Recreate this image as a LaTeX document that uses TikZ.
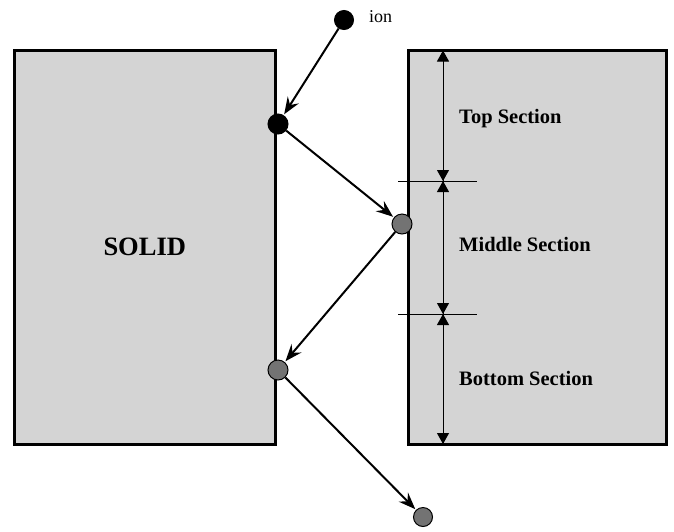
\documentclass[tikz,border=0pt]{standalone}
\usepackage{fontspec}
\setmainfont{Liberation Serif}
\usetikzlibrary{arrows.meta}
\begin{document}
\begin{tikzpicture}[x=1pt,y=-1pt,
  box/.style={draw=black,line width=3pt,fill=black!17},
  blackdot/.style={circle,draw=black,line width=1pt,fill=black,minimum size=20pt,inner sep=0pt},
  graydot/.style={circle,draw=black,line width=1pt,fill=black!55,minimum size=20pt,inner sep=0pt},
  mover/.style={line width=2pt,-{Stealth[length=17pt,width=13pt,inset=6pt]},shorten >=1pt},
  dim/.style={line width=1pt},
  dimtip/.style={-{Triangle[length=11pt,width=12pt]}},
  lbl/.style={font=\fontsize{20.5}{24}\selectfont\bfseries,anchor=base west,inner sep=0pt},
]
\useasboundingbox (0,0) rectangle (674,531);
% boxes
\path[box] (14.5,50.5) rectangle (275,444) node[midway,font=\fontsize{26.5}{30}\selectfont\bfseries] (solid) {SOLID};
\path[box] (408,50.5) rectangle (666.5,444);
% dimension coordinates
\coordinate (dtop) at (443,50.5);
\coordinate (d1) at (443,181);
\coordinate (d2) at (443,314);
\coordinate (dbot) at (443,444);
\coordinate (t1l) at (398,181);
\coordinate (t1r) at (477,181);
\coordinate (t2l) at (398,314);
\coordinate (t2r) at (477,314);
\draw[dim] (t1l) -- (t1r);
\draw[dim] (t2l) -- (t2r);
\draw[dim,dimtip] (d1) -- (dtop);
\draw[dim,dimtip] (dtop) -- (d1);
\draw[dim,dimtip] (d2) -- (d1);
\draw[dim,dimtip] (d1) -- (d2);
\draw[dim,dimtip] (dbot) -- (d2);
\draw[dim,dimtip] (d2) -- (dbot);
% labels
\node[lbl] (top) at (459,123.5) {Top Section};
\node[lbl] (mid) at (459,251.5) {Middle Section};
\node[lbl] (bot) at (459,385.5) {Bottom Section};
% particles
\node[blackdot,minimum size=19pt] (ion) at (344,20) {};
\node[anchor=base west,inner sep=0pt,font=\fontsize{18}{20}\selectfont] (ionl) at (369,22) {ion};
\node[blackdot] (p1) at (278,124) {};
\node[graydot] (p2) at (402,224) {};
\node[graydot] (p3) at (278,370) {};
\node[graydot,minimum size=19pt] (p4) at (423,517) {};
\draw[mover] (ion) -- (p1);
\draw[mover] (p1) -- (p2);
\draw[mover] (p2) -- (p3);
\draw[mover] (p3) -- (p4);
\end{tikzpicture}
\end{document}
